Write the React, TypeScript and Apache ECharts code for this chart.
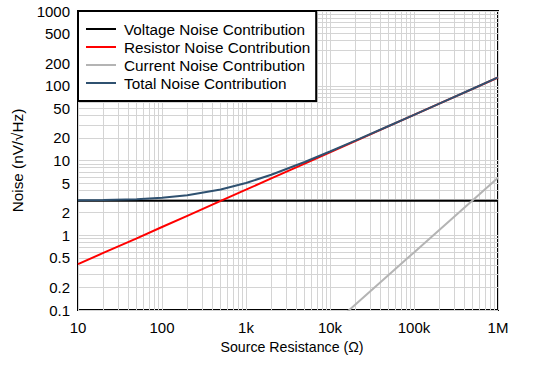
import React, { useEffect, useRef } from "react";
import * as echarts from "echarts";

// Axis tick labels
const xLabelValues = [10, 100, 1000, 10000, 100000, 1000000];
const xLabelTexts = ["10", "100", "1k", "10k", "100k", "1M"];
const yLabelValues = [0.1, 0.2, 0.5, 1, 2, 5, 10, 20, 50, 100, 200, 500, 1000];

// Source resistance (Ω) sample points
const resistance = [10, 20, 50, 100, 200, 500, 1000, 2000, 5000, 10000, 20000, 50000, 100000, 200000, 500000, 1000000];
// Noise values (nV/√Hz)
const voltageNoise = [2.9, 2.9, 2.9, 2.9, 2.9, 2.9, 2.9, 2.9, 2.9, 2.9, 2.9, 2.9, 2.9, 2.9, 2.9, 2.9];
const resistorNoise = [0.41, 0.58, 0.91, 1.29, 1.82, 2.88, 4.07, 5.76, 9.1, 12.9, 18.2, 28.8, 40.7, 57.6, 91, 129];
const totalNoise = [2.93, 2.96, 3.04, 3.17, 3.42, 4.09, 5.0, 6.45, 9.55, 13.2, 18.4, 28.95, 40.8, 57.7, 91.1, 129.2];
const currentResistance = [10000, 100000, 1000000];
const currentNoise = [0.059, 0.59, 5.9];

const names = [
  "Voltage Noise Contribution",
  "Resistor Noise Contribution",
  "Current Noise Contribution",
  "Total Noise Contribution",
];
const colors = ["#000000", "#ff0000", "#b4b4b4", "#2f5170"];

const lg = (v: number) => Math.log10(v);
const minorGrid = (lo: number, hi: number) => {
  const out: number[] = [];
  for (let d = lo; d < hi; d++) {
    for (let k = 1; k <= 9; k++) out.push(lg(k * Math.pow(10, d)));
  }
  out.push(hi);
  return out;
};
const pair = (xs: number[], ys: number[]) => xs.map((x, i) => [lg(x), lg(ys[i])]);

const FONT = "Liberation Sans, Arial, Helvetica, sans-serif";

export default function App() {
  const ref = useRef<HTMLDivElement>(null);
  useEffect(() => {
    if (!ref.current) return;
    const chart = echarts.init(ref.current, undefined, { renderer: "svg" });
    const lineSeries = (i: number, data: number[][]) => ({
      name: names[i],
      type: "line",
      data,
      showSymbol: false,
      symbol: "none",
      smooth: false,
      clip: true,
      lineStyle: { color: colors[i], width: 2 },
      itemStyle: { color: colors[i] },
      z: i === 3 ? 5 : 3,
    });
    chart.setOption({
      animation: false,
      textStyle: { fontFamily: FONT },
      grid: {
        left: 78,
        right: 39,
        top: 11,
        bottom: 57,
        show: true,
        borderColor: "#000",
        borderWidth: 2,
        backgroundColor: "transparent",
      },
      legend: {
        data: names,
        orient: "vertical",
        left: 78,
        top: 11,
        backgroundColor: "#ffffff",
        borderColor: "#000",
        borderWidth: 2,
        borderRadius: 0,
        padding: [10, 6, 10, 8],
        itemGap: 2,
        itemWidth: 30,
        itemHeight: 2,
        icon: "rect",
        textStyle: {
          fontSize: 15.3,
          color: "#000",
          fontFamily: FONT,
          lineHeight: 16,
          padding: [0, 0, 0, 3],
        },
        selectedMode: false,
      },
      xAxis: {
        type: "value",
        min: 1,
        max: 6,
        name: "Source Resistance (Ω)",
        nameLocation: "middle",
        nameGap: 28,
        nameTextStyle: { fontSize: 14.2, color: "#000", fontFamily: FONT, padding: [0, 0, 0, 8] },
        axisLine: { show: false },
        axisTick: { show: false, customValues: minorGrid(1, 6) },
        axisLabel: {
          customValues: xLabelValues.map(lg),
          formatter: (v: number) => {
            const i = xLabelValues.findIndex((x) => Math.abs(lg(x) - v) < 1e-6);
            return i >= 0 ? xLabelTexts[i] : "";
          },
          fontSize: 15,
          color: "#000",
          margin: 10,
          fontFamily: FONT,
        },
        splitLine: { show: true, lineStyle: { color: "#d4d4d4", width: 1 } },
      },
      yAxis: {
        type: "value",
        min: -1,
        max: 3,
        name: "Noise (nV/√Hz)",
        nameLocation: "middle",
        nameGap: 53,
        nameRotate: 90,
        nameTextStyle: { fontSize: 15.3, color: "#000", fontFamily: FONT },
        axisLine: { show: false },
        axisTick: { show: false, customValues: minorGrid(-1, 3) },
        axisLabel: {
          customValues: yLabelValues.map(lg),
          formatter: (v: number) => {
            const i = yLabelValues.findIndex((y) => Math.abs(lg(y) - v) < 1e-6);
            return i >= 0 ? String(yLabelValues[i]) : "";
          },
          fontSize: 15,
          color: "#000",
          margin: 8,
          fontFamily: FONT,
        },
        splitLine: { show: true, lineStyle: { color: "#d4d4d4", width: 1 } },
      },
      series: [
        lineSeries(0, pair(resistance, voltageNoise)),
        lineSeries(1, pair(resistance, resistorNoise)),
        lineSeries(2, pair(currentResistance, currentNoise)),
        lineSeries(3, pair(resistance, totalNoise)),
      ],
    });
    return () => chart.dispose();
  }, []);
  return (
    <div
      ref={ref}
      style={{ position: "absolute", left: 0, top: 0, width: 537, height: 367, background: "#fff" }}
    />
  );
}
